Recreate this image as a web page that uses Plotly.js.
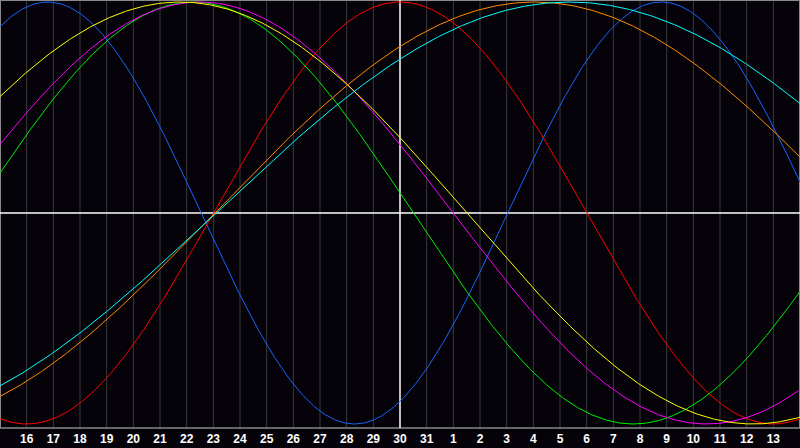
<!DOCTYPE html>
<html>
<head>
<meta charset="utf-8">
<script src="https://cdn.plot.ly/plotly-3.0.1.min.js"></script>
<style>
html,body{margin:0;padding:0;background:#050309;}
#chart{width:800px;height:448px;}
</style>
</head>
<body>
<div id="chart"></div>
<script>
// Day labels for each column (index 0 .. 30)
const dayLabels = [15,16,17,18,19,20,21,22,23,24,25,26,27,28,29,30,31,1,2,3,4,5,6,7,8,9,10,11,12,13,14];
const todayIndex = 15;
// Biorhythm cycles: period in days and the column where each curve crosses zero going up
const cycleNames   = ['Physical','Emotional','Intellectual','Intuitive','Aesthetic','Awareness','Spiritual'];
const cyclePeriods = [23, 28, 33, 38, 43, 48, 53];
const cycleUpCross = [19.04, 8.0, -1.0, -2.0, -4.0, 8.05, 8.1];
const cycleColors  = ['#1565ff','#ff0000','#00ee00','#ff00ff','#ffff00','#ff8c00','#00ffff'];

const samples = [];
for (let k = 0; k <= 600; k++) samples.push(k * 0.05);

const traces = cycleNames.map((name, c) => ({
  type: 'scatter', mode: 'lines', name: name,
  x: samples,
  y: samples.map(t => Math.sin(2 * Math.PI * (t - cycleUpCross[c]) / cyclePeriods[c])),
  line: {color: cycleColors[c], width: 1},
  hoverinfo: 'skip'
}));

const tickIdx = [];
const tickTxt = [];
for (let i = 1; i < dayLabels.length - 1; i++) { tickIdx.push(i); tickTxt.push(String(dayLabels[i])); }

const layout = {
  width: 800, height: 448,
  margin: {l: 0, r: 0, t: 0, b: 20},
  paper_bgcolor: '#050309',
  plot_bgcolor: '#050309',
  showlegend: false,
  xaxis: {
    range: [0, dayLabels.length - 1],
    tickmode: 'array', tickvals: tickIdx, ticktext: tickTxt,
    showgrid: false, zeroline: false, showline: false, ticks: '',
    ticklabelstandoff: 2,
    tickfont: {family: 'Liberation Sans', size: 12, color: '#ffffff', weight: 'bold'},
    fixedrange: true
  },
  yaxis: {
    range: [-1.019, 1.0095],
    showgrid: false, zeroline: false, showticklabels: false, showline: false, ticks: '',
    fixedrange: true
  },
  shapes: []
};

// vertical day grid lines
for (let i = 1; i < dayLabels.length - 1; i++) {
  if (i === todayIndex) continue;
  layout.shapes.push({type: 'line', xref: 'x', yref: 'paper', x0: i, x1: i, y0: 0, y1: 1,
    line: {color: '#3a3a3e', width: 1}, layer: 'below'});
}
// frame lines
layout.shapes.push({type: 'line', xref: 'paper', yref: 'paper', x0: 0, x1: 1, y0: 1, y1: 1, line: {color: '#8a8a8a', width: 2}, layer: 'below'});
layout.shapes.push({type: 'line', xref: 'paper', yref: 'paper', x0: 0, x1: 0, y0: 0, y1: 1, line: {color: '#8a8a8a', width: 2}, layer: 'below'});
layout.shapes.push({type: 'line', xref: 'paper', yref: 'paper', x0: 1, x1: 1, y0: 0, y1: 1, line: {color: '#8a8a8a', width: 2}, layer: 'below'});
layout.shapes.push({type: 'line', xref: 'paper', yref: 'paper', x0: 0, x1: 1, y0: 0, y1: 0, line: {color: '#8a8a8a', width: 1.5}, layer: 'below'});
// zero line and today line
layout.shapes.push({type: 'line', xref: 'paper', yref: 'y', x0: 0, x1: 1, y0: 0, y1: 0, line: {color: '#ffffff', width: 1.5}, layer: 'below'});
layout.shapes.push({type: 'line', xref: 'x', yref: 'paper', x0: todayIndex, x1: todayIndex, y0: 0, y1: 1, line: {color: '#ffffff', width: 1.5}, layer: 'below'});

Plotly.newPlot('chart', traces, layout, {displayModeBar: false, staticPlot: true});
</script>
</body>
</html>
